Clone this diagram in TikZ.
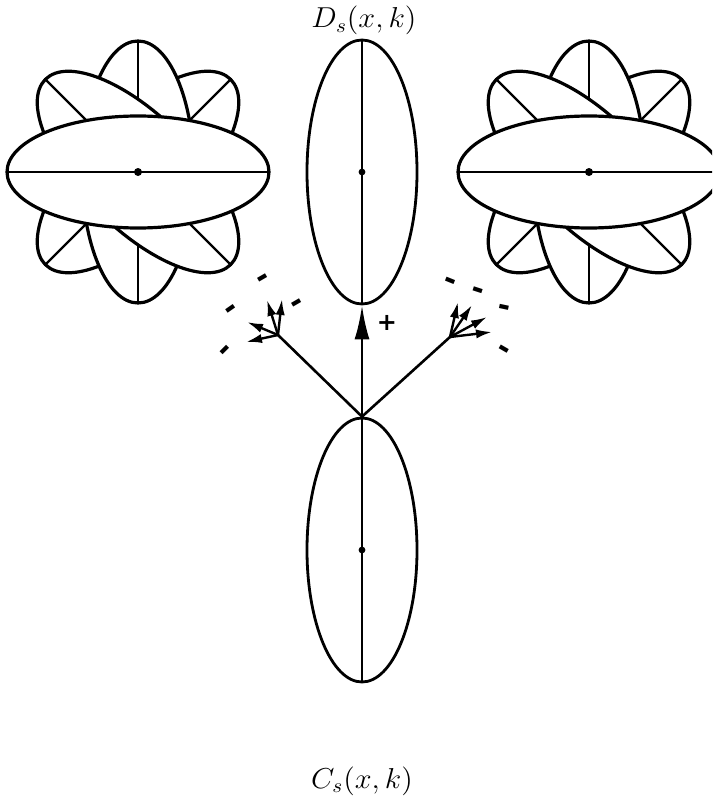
\documentclass[tikz,border=0pt]{standalone}
\usepackage{amsmath,amssymb}
\usepackage{fontspec}
\newfontfamily\signfont{DejaVu Sans}
\usetikzlibrary{arrows.meta,shapes.geometric}

\begin{document}
\begin{tikzpicture}[x=0.5pt,y=-0.5pt,>={Latex[length=8pt,width=4.6pt]}]
  \tikzstyle{lobe}=[draw, fill=white, line width=1.6pt]
  \tikzstyle{axis}=[line width=1.1pt]
  \tikzstyle{blob}=[draw, ellipse, line width=1.4pt, minimum width=55pt, minimum height=132pt, inner sep=0pt]
  \tikzstyle{ray}=[line width=1.3pt]
  \tikzstyle{minus}=[font=\signfont\bfseries\fontsize{15}{15}\selectfont, inner sep=0pt]
  \tikzstyle{eqlabel}=[font=\Large, xscale=1.05, anchor=base]
  \useasboundingbox (0,0) rectangle (712,797);
  \clip (0,0) rectangle (712,797);

  % side flowers
  \coordinate (lc) at (138,172);
  \coordinate (rc) at (589,172);
  \foreach \c in {lc,rc}
    \foreach \a in {45,90,135,0} {
      \begin{scope}[shift={(\c)},rotate=\a]
        \draw[lobe] (0,0) ellipse [x radius=131, y radius=56];
        \draw[axis] (-131,0) -- (131,0);
      \end{scope}
    }
  \fill (lc) circle (2pt);
  \fill (rc) circle (2pt);

  % central ellipses
  \node[blob] (ds) at (362,172) {};
  \node[blob] (cs) at (362,550) {};
  \draw[axis] (ds.north) -- (ds.south);
  \draw[axis] (cs.north) -- (cs.south);
  \fill (ds.center) circle (1.7pt);
  \fill (cs.center) circle (1.7pt);
  \node[eqlabel] (dlab) at (364,28) {$D_s(x,k)$};
  \node[eqlabel] (clab) at (362,788) {$C_s(x,k)$};

  % fans
  \coordinate (lf) at (278,335);
  \coordinate (rf) at (450,337);
  \foreach \n/\x/\y in {l1/267/300, l2/282/299, l3/247/322, l4/246/342,
                        r1/458/302, r2/472/305, r3/487/317, r4/492/332}
    \coordinate (\n) at (\x,\y);

  \draw[ray, -{Latex[length=17pt,width=7.5pt]}] (cs.north) -- (ds.south);
  \draw[ray] (cs.north) -- (lf);
  \draw[ray] (cs.north) -- (rf);
  \foreach \n in {l1,l2,l3,l4} \draw[->, line width=1.2pt] (lf) -- (\n);
  \foreach \n in {r1,r2,r3,r4} \draw[->, line width=1.2pt] (rf) -- (\n);

  % charges
  \node[minus, font=\signfont\bfseries\fontsize{12}{12}\selectfont] (plus) at (387,323) {+};
  \foreach \n/\x/\y/\r in {m1/264/281/30, m2/233/312/35, m3/298/306/30, m4/227/352/45,
                           m5/449/284/-22, m6/477/293/-18, m7/504/311/-12, m8/503/352/-30}
    \node[minus, rotate=\r] (\n) at (\x,\y) {-};
\end{tikzpicture}
\end{document}
